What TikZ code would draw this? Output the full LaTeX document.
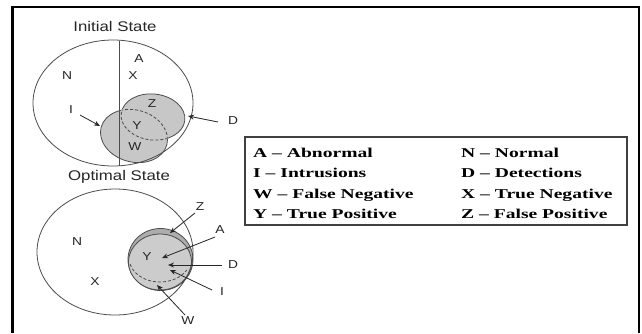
\documentclass[tikz,border=0pt]{standalone}
\usepackage{fontspec}
\usepackage{graphicx}
\setmainfont{Liberation Serif}
\newfontfamily\arialf{Liberation Sans}
\usetikzlibrary{arrows.meta}
\newcommand\wx[2]{\scalebox{#1}[1]{#2}}
\begin{document}
\begin{tikzpicture}[x=1pt,y=-1pt,
  lbl/.style={font=\arialf\fontsize{11.5}{12}\selectfont, text=black!85, inner sep=0pt},
  ttl/.style={font=\arialf\fontsize{14}{15}\selectfont, text=black!85, inner sep=0pt},
  leg/.style={font=\bfseries\fontsize{13.5}{14}\selectfont, anchor=base west, inner sep=0pt},
  outl/.style={draw=black!70, line width=0.8pt},
  gfill/.style={fill=black!22},
  arr/.style={draw=black!85, line width=0.8pt, -{Stealth[length=6pt,width=5pt]}}]
\useasboundingbox (0,0) rectangle (642,333);
\fill[white] (0,0) rectangle (642,333);
% frame
\draw[line width=2.7pt] (12.8,333) -- (12.8,7) -- (639,7) -- (639,333);

% ---------------- Initial state
\node[ttl] (tInit) at (115,26) {\wx{1.2}{Initial State}};
\def\Iell{(134,136) circle [x radius=34pt, y radius=26pt, rotate=-15]}
\def\Dell{(153,117) circle [x radius=32pt, y radius=23pt, rotate=-6]}
\fill[gfill] \Iell;
\fill[gfill] \Dell;
\draw[outl] (113,103) circle [x radius=80pt, y radius=63pt];
\draw[outl] \Iell;
\draw[outl] \Dell;
\begin{scope}
  \clip \Iell;
  \draw[black!22, line width=1.8pt] \Dell;
  \draw[outl, dashed, dash pattern=on 3pt off 2pt] \Dell;
\end{scope}
\begin{scope}
  \clip \Dell;
  \draw[black!22, line width=1.8pt] \Iell;
  \draw[outl, dashed, dash pattern=on 3pt off 2pt] \Iell;
\end{scope}
\draw[outl] (119,40.5) -- (119,166);

\node[lbl] (iN) at (67,76) {\wx{1.2}{N}};
\node[lbl] (iA) at (139,59) {\wx{1.2}{A}};
\node[lbl] (iX) at (133,76) {\wx{1.2}{X}};
\node[lbl] (iI) at (71,110) {\wx{1.2}{I}};
\node[lbl] (iZ) at (152,104) {\wx{1.2}{Z}};
\node[lbl] (iY) at (137,126) {\wx{1.2}{Y}};
\node[lbl] (iW) at (135,147) {\wx{1.2}{W}};
\node[lbl] (iD) at (233,121) {\wx{1.2}{D}};
\coordinate (iIs) at (80,115);
\coordinate (iIt) at (100,126);
\coordinate (iDs) at (218,122);
\coordinate (iDt) at (188,116);
\draw[arr] (iIs) -- (iIt);
\draw[arr] (iDs) -- (iDt);

% ---------------- Optimal state
\node[ttl] (tOpt) at (119,177) {\wx{1.2}{Optimal State}};
\fill[black!32] (160.5,259.5) circle [x radius=32.5pt, y radius=31pt];
\draw[outl] (160.5,259.5) circle [x radius=32.5pt, y radius=31pt];
\fill[black!20] (160,262) circle [x radius=31.5pt, y radius=28pt];
\draw[outl] (160,262) circle [x radius=31.5pt, y radius=28pt];
\coordinate (oArc) at (160,258);
\draw[outl, dashed, dash pattern=on 3pt off 2pt] (oArc) ++(195:31pt and 24pt) arc [start angle=195, end angle=330, x radius=31pt, y radius=24pt];
\draw[outl] (115,252) circle [x radius=78pt, y radius=63pt];

\node[lbl] (oN) at (77,242) {\wx{1.2}{N}};
\node[lbl] (oX) at (95,282) {\wx{1.2}{X}};
\node[lbl] (oY) at (147,257) {\wx{1.2}{Y}};
\node[lbl] (oZ) at (200,207) {\wx{1.2}{Z}};
\node[lbl] (oA) at (220,230) {\wx{1.2}{A}};
\node[lbl] (oD) at (233,265) {\wx{1.2}{D}};
\node[lbl] (oI) at (222,292) {\wx{1.2}{I}};
\node[lbl] (oW) at (188,321) {\wx{1.2}{W}};
\coordinate (oZs) at (195,213);
\coordinate (oZt) at (170,233);
\coordinate (oAs) at (215,237);
\coordinate (oAt) at (162,258);
\coordinate (oDs) at (222,265);
\coordinate (oDt) at (168,265);
\coordinate (oIs) at (212,290);
\coordinate (oIt) at (170,270);
\coordinate (oWs) at (185,315);
\coordinate (oWt) at (157,285);
\draw[arr] (oZs) -- (oZt);
\draw[arr] (oAs) -- (oAt);
\draw[arr] (oDs) -- (oDt);
\draw[arr] (oIs) -- (oIt);
\draw[arr] (oWs) -- (oWt);

% ---------------- Legend
\draw[black!75, line width=1.2pt] (245,137) rectangle (627,225);
\node[leg] (l1) at (253,157) {\wx{1.45}{A -- Abnormal}};
\node[leg] (l2) at (253,177) {\wx{1.45}{I -- Intrusions}};
\node[leg] (l3) at (253,198) {\wx{1.45}{W -- False Negative}};
\node[leg] (l4) at (253,218) {\wx{1.45}{Y -- True Positive}};
\node[leg] (r1) at (461,157) {\wx{1.45}{N -- Normal}};
\node[leg] (r2) at (461,177) {\wx{1.45}{D -- Detections}};
\node[leg] (r3) at (461,198) {\wx{1.45}{X -- True Negative}};
\node[leg] (r4) at (461,218) {\wx{1.45}{Z -- False Positive}};
\end{tikzpicture}
\end{document}
